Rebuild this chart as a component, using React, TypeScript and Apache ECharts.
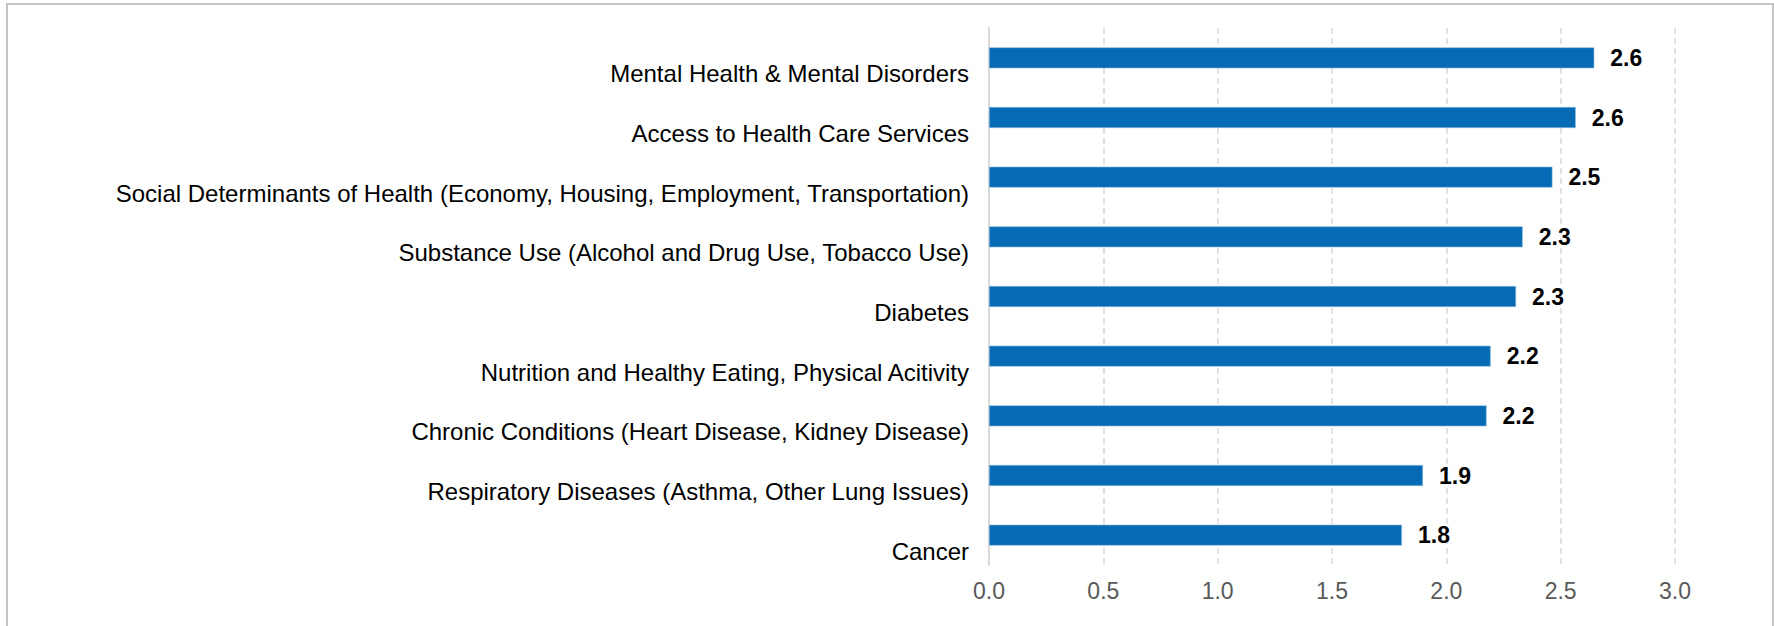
import React, { useEffect, useRef } from "react";
import * as echarts from "echarts";

const categories = [
  "Mental Health & Mental Disorders",
  "Access to Health Care Services",
  "Social Determinants of Health (Economy, Housing, Employment, Transportation)",
  "Substance Use (Alcohol and Drug Use, Tobacco Use)",
  "Diabetes",
  "Nutrition and Healthy Eating, Physical Acitivity",
  "Chronic Conditions (Heart Disease, Kidney Disease)",
  "Respiratory Diseases (Asthma, Other Lung Issues)",
  "Cancer",
];

const values = [2.647, 2.566, 2.464, 2.334, 2.305, 2.194, 2.176, 1.898, 1.806];

const xTicks = { min: 0, max: 3, interval: 0.5 };

const FONT = "'Liberation Sans', Arial, sans-serif";

export default function App() {
  const ref = useRef<HTMLDivElement>(null);

  useEffect(() => {
    if (!ref.current) return;
    const chart = echarts.init(ref.current, undefined, { renderer: "svg" });
    chart.setOption({
      animation: false,
      backgroundColor: "#ffffff",
      grid: { left: 989, right: 99, top: 28, bottom: 61, containLabel: false },
      xAxis: {
        type: "value",
        min: xTicks.min,
        max: xTicks.max,
        interval: xTicks.interval,
        axisLine: { show: false },
        axisTick: { show: false },
        splitLine: { show: true, lineStyle: { color: "#d9d9d9", type: [6, 4], width: 1.5 } },
        axisLabel: {
          color: "#595959",
          fontSize: 23,
          fontFamily: FONT,
          margin: 14,
          formatter: (v: number) => v.toFixed(1),
        },
      },
      yAxis: {
        type: "category",
        data: categories,
        inverse: true,
        axisLine: { show: true, lineStyle: { color: "#d9d9d9", width: 2 } },
        axisTick: { show: false },
        splitLine: { show: false },
        axisLabel: {
          color: "#000000",
          fontSize: 24,
          fontFamily: FONT,
          margin: 20,
          verticalAlign: "top",
          lineHeight: 32,
        },
      },
      series: [
        {
          type: "bar",
          data: values,
          barWidth: 21,
          itemStyle: { color: "#066bb4", borderColor: "#8fbde0", borderWidth: 0.6 },
          label: {
            show: true,
            position: "right",
            distance: 16,
            color: "#000000",
            fontWeight: "bold",
            fontSize: 23,
            fontFamily: FONT,
            formatter: (p: any) => Number(p.value).toFixed(1),
          },
        },
      ],
    });
    return () => chart.dispose();
  }, []);

  return (
    <div style={{ position: "absolute", left: 0, top: 0, width: 1774, height: 626, overflow: "hidden", background: "#fff" }}>
      <div ref={ref} style={{ position: "absolute", left: 0, top: 0, width: 1774, height: 626 }} />
      <div
        style={{
          position: "absolute",
          left: 6,
          top: 3,
          width: 1764,
          height: 700,
          border: "2px solid #c4c4c4",
          pointerEvents: "none",
        }}
      />
    </div>
  );
}
